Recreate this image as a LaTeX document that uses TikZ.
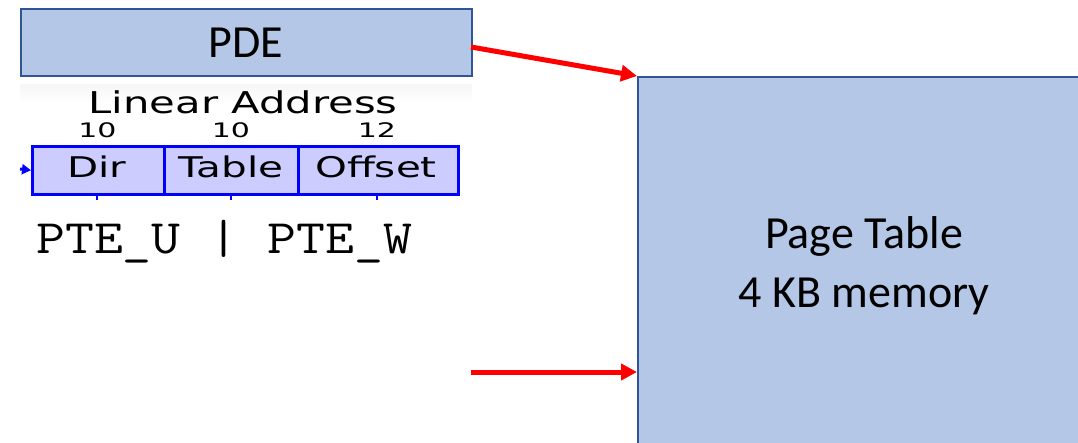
\documentclass[tikz,border=0pt]{standalone}
\usepackage{fontspec}
\setmainfont{Carlito}
\newfontfamily\addrfont{DejaVu Sans}
\usetikzlibrary{arrows.meta}
\definecolor{boxfill}{HTML}{B4C7E7}
\definecolor{boxline}{HTML}{2F5597}
\definecolor{fieldfill}{HTML}{CCCCFF}
\definecolor{fieldline}{HTML}{0000FF}
\definecolor{arrowred}{HTML}{FF0000}
\tikzset{
  blockbox/.style={draw=boxline, fill=boxfill, line width=2pt, inner sep=0pt, anchor=north west},
  fieldbox/.style={draw=fieldline, fill=fieldfill, line width=2.5pt, inner sep=0pt, anchor=north west, minimum height=48},
  bigtext/.style={font=\fontsize{46}{55}\selectfont, inner sep=0pt, anchor=base},
  addrtext/.style={font=\addrfont\fontsize{28.5}{30}\selectfont, inner sep=0pt, anchor=base},
  bitstext/.style={font=\addrfont\fontsize{20}{22}\selectfont, inner sep=0pt, anchor=base},
  redarrow/.style={draw=arrowred, line width=5pt, -{Triangle[length=16pt, width=16pt]}},
  tick/.style={draw=fieldline, line width=2.5pt},
}
\begin{document}
\begin{tikzpicture}[x=1pt, y=-1pt]
\useasboundingbox (0,0) rectangle (1078,442);
\clip (0,0) rectangle (1078,442);

% faint backdrop of the address figure
\shade[top color=black!3.5, bottom color=white] (20,84) rectangle (472,104);

% page directory entry
\node[blockbox, minimum width=451, minimum height=67] (pde) at (20,8) {};
\node[bigtext] (pdelabel) at (245.5,57) {PDE};

% page table frame
\node[blockbox, minimum width=470, minimum height=400] (pt) at (637,76) {};
\node[bigtext] (ptl1) at (864,248) {Page Table};
\node[bigtext] (ptl2) at (864,307) {4 KB memory};

% linear address layout
\node[font=\addrfont\fontsize{30}{32}\selectfont, inner sep=0pt, anchor=base] (la) at (243,113) {\scalebox{1.39}[1]{Linear Address}};
\node[fieldbox, minimum width=132] (dir) at (31,145) {};
\node[fieldbox, minimum width=134] (tbl) at (163,145) {};
\node[fieldbox, minimum width=160] (off) at (297,145) {};
\node[addrtext] (dirl) at (97,177) {\scalebox{1.42}[1]{Dir}};
\node[addrtext] (tbll) at (231,177) {\scalebox{1.42}[1]{Table}};
\node[addrtext] (offl) at (376,177) {\scalebox{1.42}[1]{Offset}};
\node[bitstext] (b1) at (97.5,137) {\scalebox{1.5}[1]{10}};
\node[bitstext] (b2) at (231,137) {\scalebox{1.5}[1]{10}};
\node[bitstext] (b3) at (377,137) {\scalebox{1.5}[1]{12}};

% short ticks under the fields
\coordinate (t1) at (97,200);
\coordinate (t2) at (231,200);
\coordinate (t3) at (377,200);
\draw[tick] (t1) -- (t1 |- dir.south);
\draw[tick] (t2) -- (t2 |- tbl.south);
\draw[tick] (t3) -- (t3 |- off.south);

% incoming pointer on the left
\coordinate (inleft) at (20,169);
\draw[draw=fieldline, line width=3pt, -{Triangle[length=9pt, width=10pt]}] (inleft) -- (dir.west);

% permission flags
\node[font=\ttfamily\fontsize{48}{50}\selectfont, inner sep=0pt, anchor=base west] (flags) at (36,253) {\scalebox{1.17}[1]{PTE\_U | PTE\_W}};

% arrows into the page table
\coordinate (a1) at (471,47);
\coordinate (a2) at (471,372);
\draw[redarrow] (a1) -- (pt.north west);
\draw[redarrow] (a2) -- (pt.west |- a2);
\end{tikzpicture}
\end{document}
